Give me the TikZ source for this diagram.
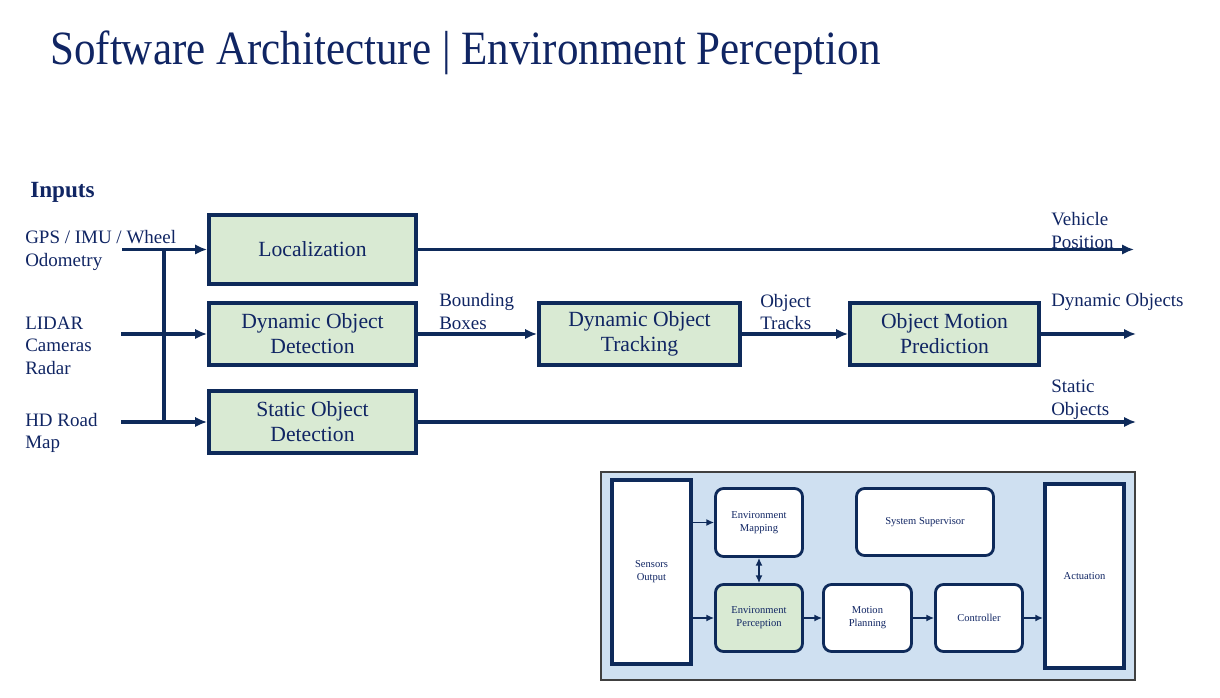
\documentclass[tikz,border=0pt]{standalone}
\usepackage{fontspec}
\setmainfont{Liberation Serif}
\newfontfamily\titlefont[FakeStretch=0.9]{Liberation Serif}
\usepackage{tikz}
\usetikzlibrary{positioning, fit, arrows.meta, shapes}
\definecolor{navy}{HTML}{0E2A5A}
\definecolor{textnavy}{HTML}{102563}
\definecolor{greenfill}{HTML}{D9EAD3}
\definecolor{panelblue}{HTML}{CFE0F1}
\newcommand{\blockcolor}{greenfill}
\newcommand{\panelcolor}{panelblue}

\begin{document}
\begin{tikzpicture}[
      % GLOBAL CFG
      font=\fontsize{13.5}{16}\selectfont,
      text=textnavy,
      >=LaTeX,
      % Styles
      block/.style={% main green boxes
        rectangle,
        draw=navy,
        line width=2.8pt,
        fill=\blockcolor,
        align=center,
        font=\fontsize{15.4}{17.8}\selectfont,
        minimum width=5.175cm,
        minimum height=1.55cm
      },
      tile/.style={% rounded boxes of the inset
        rectangle,
        rounded corners=2mm,
        draw=navy,
        line width=2pt,
        fill=white,
        align=center,
        font=\fontsize{7.5}{9.2}\selectfont,
        minimum width=2.175cm,
        minimum height=1.675cm
      },
      bar/.style={% tall boxes of the inset
        rectangle,
        draw=navy,
        line width=2.8pt,
        fill=white,
        align=center,
        font=\fontsize{7.5}{9.2}\selectfont,
        minimum width=1.975cm,
        minimum height=4.6cm
      },
      lbl/.style={% free labels
        anchor=west,
        align=left,
        inner sep=0pt
      },
      arrowmain/.style={
        draw=navy,
        line width=2.3pt,
        -{LaTeX[length=8.5pt,width=7.5pt]}
      },
      arrowsmall/.style={
        draw=navy,
        line width=1.2pt,
        -{LaTeX[length=5.5pt,width=5pt]}
      }
      ]

      \useasboundingbox (0,0) rectangle (30.5,17.425);

      % Title
      \node [lbl, font=\titlefont\fontsize{34}{40}\selectfont] (title) at (1.25,16.1) {Software Architecture | Environment Perception};

      % Inputs
      \node [lbl, font=\fontsize{16.5}{20}\selectfont\bfseries] (inputs) at (0.75,12.62) {Inputs};
      \node [lbl] (gps) at (0.625,11.16) {GPS / IMU / Wheel\\Odometry};
      \node [lbl] (lidar) at (0.625,8.79) {LIDAR\\Cameras\\Radar};
      \node [lbl] (hdmap) at (0.625,6.6) {HD Road\\Map};

      % Main blocks
      \node [block, minimum height=1.725cm] (loc) at (7.8125,11.1875) {Localization};
      \node [block] (dod) at (7.8125,9.075) {Dynamic Object\\Detection};
      \node [block] (sod) at (7.8125,6.875) {Static Object\\Detection};
      \node [block, minimum width=5.025cm] (dot) at (15.9875,9.075) {Dynamic Object\\Tracking};
      \node [block, minimum width=4.725cm] (omp) at (23.6125,9.075) {Object Motion\\Prediction};

      % Connector ends
      \coordinate (gpsin) at (3.05,11.1875);
      \coordinate (lidarin) at (3.025,9.075);
      \coordinate (hdin) at (3.025,6.875);
      \coordinate (bustop) at (4.1,11.1875);
      \coordinate (busbot) at (4.1,6.875);
      \coordinate (vehout) at (28.35,11.1875);
      \coordinate (dynout) at (28.4,9.075);
      \coordinate (statout) at (28.4,6.875);

      % Edge labels and outputs
      \node [lbl] (bboxes) at (10.975,9.64) {Bounding\\Boxes};
      \node [lbl] (tracks) at (19.0,9.62) {Object\\Tracks};
      \node [lbl] (vehpos) at (26.275,11.66) {Vehicle\\Position};
      \node [lbl] (dynobj) at (26.275,9.88) {Dynamic Objects};
      \node [lbl] (statobj) at (26.275,7.43) {Static\\Objects};

      \draw [arrowmain] (gpsin) -- (loc.west);
      \draw [arrowmain] (lidarin) -- (dod.west);
      \draw [arrowmain] (hdin) -- (sod.west);
      \draw [navy, line width=2.3pt] (bustop) -- (busbot);

      \draw [arrowmain] (dod) -- (dot);
      \draw [arrowmain] (dot) -- (omp);
      \draw [arrowmain] (loc.east) -- (vehout);
      \draw [arrowmain] (omp.east) -- (dynout);
      \draw [arrowmain] (sod.east) -- (statout);

      % Inset
      \node [rectangle, draw=black!75, line width=0.8pt, fill=\panelcolor, minimum width=13.35cm, minimum height=5.2cm] (panel) at (21.7,3.025) {};
      \node [bar] (sensors) at (16.2875,3.125) {Sensors\\Output};
      \node [tile, minimum height=1.7cm] (envmap) at (18.975,4.3625) {Environment\\Mapping};
      \node [tile, fill=\blockcolor] (envper) at (18.975,1.975) {Environment\\Perception};
      \node [tile, minimum width=2.2cm] (motion) at (21.6875,1.975) {Motion\\Planning};
      \node [tile] (ctrl) at (24.475,1.975) {Controller};
      \node [tile, minimum width=3.425cm] (supervisor) at (23.125,4.375) {System Supervisor};
      \node [bar] (act) at (27.1125,3.025) {Actuation};

      \draw [arrowsmall] (sensors.east |- envmap.west) -- (envmap.west);
      \draw [arrowsmall] (sensors.east |- envper.west) -- (envper.west);
      \draw [arrowsmall, {LaTeX[length=5.5pt,width=5pt]}-{LaTeX[length=5.5pt,width=5pt]}] (envmap.south) -- (envper.north);
      \draw [arrowsmall] (envper) -- (motion);
      \draw [arrowsmall] (motion) -- (ctrl);
      \draw [arrowsmall] (ctrl.east) -- (ctrl.east -| act.west);
    \end{tikzpicture}
\end{document}
